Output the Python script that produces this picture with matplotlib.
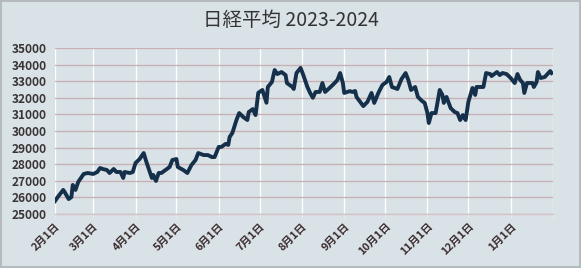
#!/usr/bin/env python3

import matplotlib
matplotlib.use('Agg')
import matplotlib.pyplot as plt
import matplotlib.dates as mdates
import pandas as pd

plt.rcParams['font.family'] = ['Noto Sans CJK JP', 'DejaVu Sans']

# values
dates = [
    '2023-02-01', '2023-02-03', '2023-02-07', '2023-02-08', '2023-02-11', '2023-02-13',
    '2023-02-14', '2023-02-16', '2023-02-18', '2023-02-22', '2023-02-25', '2023-03-01',
    '2023-03-04', '2023-03-06', '2023-03-08', '2023-03-11', '2023-03-13', '2023-03-16',
    '2023-03-18', '2023-03-21', '2023-03-23', '2023-03-24', '2023-03-28', '2023-03-30',
    '2023-04-01', '2023-04-04', '2023-04-07', '2023-04-09', '2023-04-11', '2023-04-13',
    '2023-04-14', '2023-04-16', '2023-04-18', '2023-04-20', '2023-04-23', '2023-04-26',
    '2023-04-28', '2023-05-01', '2023-05-02', '2023-05-06', '2023-05-09', '2023-05-12',
    '2023-05-15', '2023-05-17', '2023-05-21', '2023-05-24', '2023-05-27', '2023-05-29',
    '2023-06-01', '2023-06-03', '2023-06-06', '2023-06-08', '2023-06-09', '2023-06-11',
    '2023-06-14', '2023-06-16', '2023-06-19', '2023-06-22', '2023-06-23', '2023-06-26',
    '2023-06-28', '2023-06-30', '2023-07-03', '2023-07-06', '2023-07-07', '2023-07-10',
    '2023-07-12', '2023-07-14', '2023-07-17', '2023-07-20', '2023-07-21', '2023-07-25',
    '2023-07-26', '2023-07-28', '2023-07-31', '2023-08-02', '2023-08-05', '2023-08-07',
    '2023-08-09', '2023-08-11', '2023-08-14', '2023-08-16', '2023-08-18', '2023-08-22',
    '2023-08-25', '2023-08-27', '2023-08-29', '2023-08-31', '2023-09-01', '2023-09-05',
    '2023-09-07', '2023-09-09', '2023-09-10', '2023-09-15', '2023-09-18', '2023-09-21',
    '2023-09-23', '2023-09-26', '2023-09-29', '2023-10-02', '2023-10-04', '2023-10-06',
    '2023-10-10', '2023-10-13', '2023-10-16', '2023-10-18', '2023-10-20', '2023-10-23',
    '2023-10-25', '2023-10-28', '2023-10-30', '2023-11-01', '2023-11-02', '2023-11-04',
    '2023-11-07', '2023-11-10', '2023-11-12', '2023-11-13', '2023-11-15', '2023-11-18',
    '2023-11-21', '2023-11-23', '2023-11-25', '2023-11-27', '2023-11-29', '2023-12-01',
    '2023-12-04', '2023-12-06', '2023-12-07', '2023-12-12', '2023-12-14', '2023-12-17',
    '2023-12-18', '2023-12-22', '2023-12-24', '2023-12-26', '2023-12-29', '2024-01-01',
    '2024-01-04', '2024-01-06', '2024-01-08', '2024-01-10', '2024-01-11', '2024-01-13',
    '2024-01-17', '2024-01-18', '2024-01-20', '2024-01-21', '2024-01-23', '2024-01-26',
    '2024-01-30', '2024-01-31',
]
values = [
    25780, 26020, 26450, 26330, 25900, 26020,
    26750, 26450, 26930, 27410, 27470, 27410,
    27530, 27770, 27710, 27650, 27470, 27710,
    27530, 27530, 27170, 27530, 27470, 27530,
    28070, 28310, 28670, 28130, 27650, 27170,
    27350, 26990, 27470, 27470, 27650, 27830,
    28250, 28310, 27830, 27650, 27470, 27950,
    28250, 28670, 28550, 28550, 28430, 28430,
    29040, 29040, 29220, 29160, 29640, 29880,
    30660, 31080, 30840, 30660, 31140, 31320,
    30960, 32300, 32470, 31700, 32650, 32950,
    33670, 33430, 33550, 33370, 32890, 32650,
    32530, 33490, 33800, 33370, 32650, 32290,
    32000, 32350, 32350, 32890, 32350, 32650,
    32890, 33070, 33490, 32890, 32290, 32400,
    32350, 32410, 32050, 31500, 31750, 32290,
    31690, 32290, 32770, 32950, 33250, 32650,
    32530, 33130, 33490, 33070, 32470, 32650,
    32050, 31810, 31690, 31080, 30480, 31080,
    31080, 32470, 32170, 31690, 32050, 31380,
    31140, 31080, 30660, 30960, 30660, 31750,
    32590, 32170, 32650, 32650, 33490, 33430,
    33310, 33550, 33370, 33490, 33430, 33190,
    32890, 33430, 33070, 32890, 32290, 32890,
    32890, 32650, 32950, 33550, 33190, 33250,
    33610, 33490,
]
title = '日経平均 2023-2024'
y_ticks = [25000, 26000, 27000, 28000, 29000, 30000, 31000, 32000, 33000, 34000, 35000]

BG = '#d9e2e7'


def month_label(x, pos):
    d = mdates.num2date(x)
    if d.year == 2024 and d.month == 2:
        return ''
    return f"{d.month}月1日"


def main():
    data = pd.DataFrame({'date': pd.to_datetime(dates), 'value': values})

    figure = plt.figure(figsize=(5.81, 2.68), dpi=100, facecolor=BG,
                        edgecolor='#b5babe', linewidth=1.5)
    axis = figure.add_axes([0.0947, 0.2015, 0.857, 0.6195])
    axis.set_facecolor(BG)

    axis.plot(data['date'], data['value'], color='#15304a', linewidth=2.8,
              solid_joinstyle='round', zorder=3)

    axis.set_ylim(25000, 35000)
    axis.set_yticks(y_ticks)
    axis.set_xlim(pd.Timestamp('2023-02-01'), pd.Timestamp('2024-02-01'))

    axis.xaxis.set_major_locator(mdates.MonthLocator(bymonthday=1))
    axis.xaxis.set_major_formatter(plt.FuncFormatter(month_label))

    axis.yaxis.grid(True, color='#c9b0b4', linewidth=1.0, zorder=1)
    axis.xaxis.grid(True, color='#ffffff', linewidth=1.0, zorder=1)
    for side in ('top', 'right', 'left'):
        axis.spines[side].set_visible(False)
    axis.spines['bottom'].set_color('#d4c4c6')
    axis.spines['bottom'].set_linewidth(1.0)

    axis.tick_params(axis='y', length=0, pad=6, labelsize=8.6, labelcolor='#3a3434')
    axis.tick_params(axis='x', length=3, color='#e8eaec', pad=2, labelsize=7.8, labelcolor='#3a2a2c')
    for label in axis.get_yticklabels():
        label.set_fontweight('bold')
    for label in axis.get_xticklabels():
        label.set_rotation(45)
        label.set_ha('right')
        label.set_rotation_mode('anchor')
        label.set_fontweight('bold')

    figure.text(0.5, 0.925, title, ha='center', va='center', fontsize=14, color='#333333')

    figure.savefig('out.png', dpi=100, facecolor=BG, edgecolor='#b5babe')
    return 0
#-- main


if __name__ == '__main__':
    main()
